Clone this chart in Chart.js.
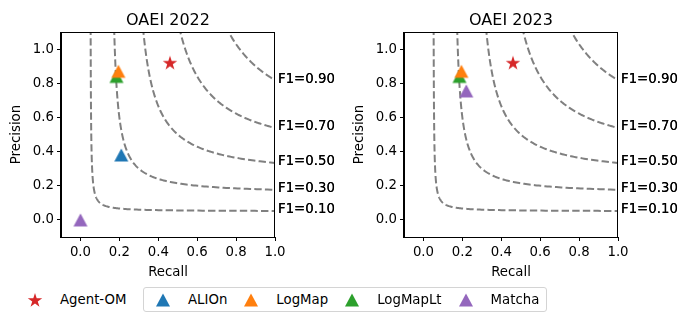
<!DOCTYPE html>
<html>
<head>
<meta charset="utf-8">
<script src="https://cdn.jsdelivr.net/npm/chart.js@4.4.1/dist/chart.umd.min.js"></script>
<style>
  body { margin: 0; background: #fff; width: 690px; height: 322px; overflow: hidden; font-family: "DejaVu Sans"; }
  canvas { position: absolute; top: 0; }
  #oaei2022 { left: 0; }
  #oaei2023 { left: 343px; }
  .legend { position: absolute; top: 287px; height: 25px; box-sizing: border-box; display: flex; align-items: center; font-size: 13.3px; color: #000; }
  .legend.box { border: 1px solid #d4d4d4; border-radius: 3px; padding: 0 7px 0 9px; }
  .legend .item { display: flex; align-items: center; }
  .legend .item + .item { margin-left: 14px; }
  .legend svg { width: 20px; height: 16px; }
  .legend span { margin-left: 15px; }
</style>
</head>
<body>
<canvas id="oaei2022" width="345" height="281"></canvas>
<canvas id="oaei2023" width="345" height="281"></canvas>
<div id="legAgent" class="legend" style="left:25px"></div>
<div id="legOthers" class="legend box" style="left:143px"></div>

<script>
// systems and colours
const systems = ["Agent-OM", "ALIOn", "LogMap", "LogMapLt", "Matcha"];
const colors  = ["#d62728", "#1f77b4", "#ff7f0e", "#2ca02c", "#9467bd"];

// values (null = not in that year)
const recall2022    = [0.46, 0.21, 0.195, 0.185, 0.00];
const precision2022 = [0.92, 0.38, 0.87, 0.84, 0.00];
const recall2023    = [0.46, null, 0.195, 0.185, 0.22];
const precision2023 = [0.92, null, 0.87, 0.84, 0.755];

// iso-F1 levels and ticks
const f1Levels = [0.1, 0.3, 0.5, 0.7, 0.9];
const xTicks = [0.0, 0.2, 0.4, 0.6, 0.8, 1.0];
const yTicks = [0.0, 0.2, 0.4, 0.6, 0.8, 1.0];

const FONT = "DejaVu Sans";

// marker images, centred on their bounding box like matplotlib
function starMarker(color) {
  const c = document.createElement("canvas");
  c.width = 20; c.height = 20;
  const ctx = c.getContext("2d");
  const R = 7.6, r = R * 0.382;
  ctx.beginPath();
  for (let i = 0; i < 10; i++) {
    const a = -Math.PI / 2 + i * Math.PI / 5;
    const rad = i % 2 === 0 ? R : r;
    ctx.lineTo(10 + rad * Math.cos(a), 10.6 + rad * Math.sin(a));
  }
  ctx.closePath();
  ctx.fillStyle = color;
  ctx.fill();
  return c;
}

function triMarker(color) {
  const c = document.createElement("canvas");
  c.width = 18; c.height = 18;
  const ctx = c.getContext("2d");
  ctx.beginPath();
  ctx.moveTo(9, 2.5);
  ctx.lineTo(2, 15.5);
  ctx.lineTo(16, 15.5);
  ctx.closePath();
  ctx.fillStyle = color;
  ctx.fill();
  return c;
}

// one iso-F1 curve: precision as a function of recall
function isoCurve(f) {
  const pts = [];
  const d0 = f * 1.25 / (2.5 - f) - f / 2;
  const d1 = 1 - f / 2;
  const n = 160;
  for (let i = 0; i <= n; i++) {
    const d = d0 * Math.pow(d1 / d0, i / n);
    const r = d + f / 2;
    pts.push({ x: r, y: f * r / (2 * r - f) });
  }
  return pts;
}

const framePlugin = {
  id: "frame",
  afterDraw(chart) {
    const { ctx, chartArea: { left, right, top, bottom } } = chart;
    ctx.save();
    ctx.strokeStyle = "#000";
    ctx.lineWidth = 1;
    ctx.strokeRect(Math.round(left) - 0.5, Math.round(top) + 0.5, Math.round(right - left), Math.round(bottom - top));
    ctx.restore();
  }
};

const labelsPlugin = {
  id: "labels",
  afterDraw(chart, args, opts) {
    const { ctx, chartArea: { left, right, top } } = chart;
    const ys = chart.scales.y;
    ctx.save();
    // title
    ctx.font = "16px " + FONT;
    ctx.fillStyle = "#000";
    ctx.textAlign = "center";
    ctx.textBaseline = "alphabetic";
    ctx.fillText(opts.title, (left + right) / 2, top - 7);
    // F1 labels at recall = 1
    ctx.font = "13.3px " + FONT;
    ctx.textAlign = "left";
    ctx.textBaseline = "middle";
    f1Levels.forEach(f => {
      const y = ys.getPixelForValue(f / (2 - f)) - 1;
      const txt = "F1=" + f.toFixed(2);
      ctx.fillText(txt, right + 3, y);
      ctx.fillText(txt, right + 3, y);
    });
    ctx.restore();
  }
};

function makeChart(canvas, title, recall, precision) {
  const datasets = [];
  f1Levels.forEach(f => {
    datasets.push({
      label: "F1=" + f,
      data: isoCurve(f),
      showLine: true,
      pointRadius: 0,
      borderColor: "#808080",
      borderWidth: 2,
      borderDash: [7.4, 3.2],
      fill: false,
      order: 10
    });
  });
  systems.forEach((s, i) => {
    if (recall[i] === null) return;
    datasets.push({
      label: s,
      data: [{ x: recall[i], y: precision[i] }],
      pointStyle: i === 0 ? starMarker(colors[i]) : triMarker(colors[i]),
      backgroundColor: colors[i],
      order: i + 1
    });
  });

  const tickFont = { family: FONT, size: 13.3 };
  const axisGrid = { display: true, drawOnChartArea: false, drawTicks: true, tickLength: 4, color: "#000", lineWidth: 1 };

  return new Chart(canvas, {
    type: "scatter",
    data: { datasets },
    plugins: [framePlugin, labelsPlugin],
    options: {
      responsive: false,
      animation: false,
      devicePixelRatio: 1,
      layout: { padding: { top: 32, right: 70, left: 0, bottom: 0 } },
      plugins: {
        legend: { display: false },
        tooltip: { enabled: false },
        labels: { title }
      },
      scales: {
        x: {
          type: "linear",
          min: -0.1, max: 1.0,
          afterBuildTicks: axis => { axis.ticks = xTicks.map(v => ({ value: v })); },
          afterFit: axis => { axis.height = 44; },
          ticks: { color: "#000", font: tickFont, padding: 4, maxRotation: 0, callback: v => v.toFixed(1) },
          grid: axisGrid,
          border: { display: true, color: "#000", width: 1 },
          title: { display: true, text: "Recall", color: "#000", font: tickFont, padding: { top: 4, bottom: 0 } }
        },
        y: {
          type: "linear",
          min: -0.1, max: 1.1,
          afterBuildTicks: axis => { axis.ticks = yTicks.map(v => ({ value: v })); },
          afterFit: axis => { axis.width = 61; },
          ticks: { color: "#000", font: tickFont, padding: 3, callback: v => v.toFixed(1) },
          grid: axisGrid,
          border: { display: true, color: "#000", width: 1 },
          title: { display: true, text: "Precision", color: "#000", font: tickFont, padding: { top: 9, bottom: 0 } }
        }
      }
    }
  });
}

makeChart(document.getElementById("oaei2022"), "OAEI 2022", recall2022, precision2022);
makeChart(document.getElementById("oaei2023"), "OAEI 2023", recall2023, precision2023);

// legends
function markerSvg(i) {
  const c = colors[i];
  if (i === 0) {
    let pts = [];
    for (let k = 0; k < 10; k++) {
      const a = -Math.PI / 2 + k * Math.PI / 5;
      const rad = k % 2 === 0 ? 7.6 : 2.9;
      pts.push((10 + rad * Math.cos(a)).toFixed(2) + "," + (8.6 + rad * Math.sin(a)).toFixed(2));
    }
    return `<svg viewBox="0 0 20 16"><polygon points="${pts.join(" ")}" fill="${c}"/></svg>`;
  }
  return `<svg viewBox="0 0 20 16"><polygon points="10,1.5 3,14.5 17,14.5" fill="${c}"/></svg>`;
}

function item(i) {
  return `<div class="item">${markerSvg(i)}<span>${systems[i]}</span></div>`;
}

document.getElementById("legAgent").innerHTML = item(0);
document.getElementById("legOthers").innerHTML = systems.slice(1).map((s, k) => item(k + 1)).join("");
</script>
</body>
</html>
